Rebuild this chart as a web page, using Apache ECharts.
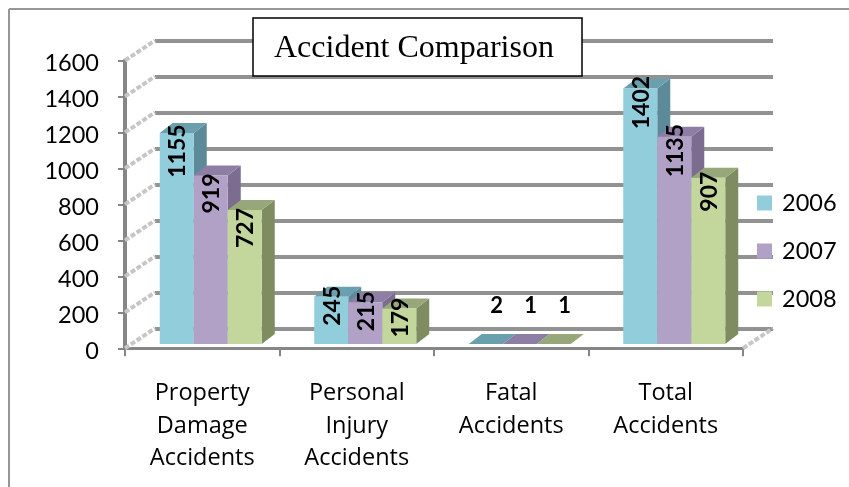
<!DOCTYPE html>
<html>
<head>
<meta charset="utf-8">
<style>html,body{margin:0;padding:0;background:#fff}#main{width:849px;height:487px}</style>
<script src="https://cdn.jsdelivr.net/npm/echarts@6/dist/echarts.min.js"></script>
</head>
<body>
<div id="main"></div>
<script>
var myChart = echarts.init(document.getElementById('main'));

// categories and series
var categories = ['Property\nDamage\nAccidents', 'Personal\nInjury\nAccidents', 'Fatal\nAccidents', 'Total\nAccidents'];
var years = ['2006', '2007', '2008'];
var values2006 = [1155, 245, 2, 1402];
var values2007 = [919, 215, 1, 1135];
var values2008 = [727, 179, 1, 907];
var yTicks = [0, 200, 400, 600, 800, 1000, 1200, 1400, 1600];

var seriesValues = [values2006, values2007, values2008];
var frontColors = ['#92cddc', '#b2a1c7', '#c3d69b'];
var topColors = ['#6a9fae', '#8e7ea6', '#97a77a'];
var sideColors = ['#5c8a98', '#7b6c90', '#7f8c62'];

// depth of the 3d box
var wallX = 30, wallY = -20;
var barW = 34, depthX = 13, depthY = -10;
// how far the label centre sits under the bar top, per category
var labelDrop = [18, 9, 0, 14];

function poly(points, color) {
  return { type: 'polygon', shape: { points: points }, style: { fill: color, stroke: null } };
}

function renderBar(s) {
  return function (params, api) {
    var i = api.value(0);
    var v = api.value(1);
    var base = api.coord([i, 0]);
    var pt = api.coord([i, v]);
    var x = base[0] + 8.5 + (s - 1) * barW - barW / 2;
    var bottom = base[1] - 4.2;
    var top = v < 10 ? bottom : pt[1] - 7.5;
    var kids = [];
    // side, top, front
    kids.push(poly([[x + barW, top], [x + barW + depthX, top + depthY], [x + barW + depthX, bottom + depthY], [x + barW, bottom]], sideColors[s]));
    kids.push(poly([[x, top], [x + depthX, top + depthY], [x + barW + depthX, top + depthY], [x + barW, top]], topColors[s]));
    kids.push({ type: 'rect', shape: { x: x, y: top, width: barW, height: bottom - top }, style: { fill: frontColors[s] } });
    // value label
    if (v < 10) {
      kids.push({
        type: 'text', x: x + barW / 2 + 11, y: 306,
        style: { text: String(v), fill: '#000', font: 'bold 22px Lato', align: 'center', verticalAlign: 'middle' }
      });
    } else {
      kids.push({
        type: 'text', x: x + barW / 2 + 1, y: top + labelDrop[i], rotation: Math.PI / 2,
        style: { text: String(v), fill: '#000', font: 'bold 23px Lato', align: 'center', verticalAlign: 'middle' }
      });
    }
    return { type: 'group', children: kids };
  };
}

// diagonal dashes on the side wall, left and right
function renderWall(params, api) {
  var left = api.coord([0, api.value(0)]);
  var sys = params.coordSys;
  var dash = { stroke: '#c6c6c6', lineWidth: 4, lineDash: [5, 2] };
  var kids = [{
    type: 'line',
    shape: { x1: sys.x, y1: left[1], x2: sys.x + wallX, y2: left[1] + wallY },
    style: dash
  }];
  if (params.dataIndex === 0) {
    kids.push({
      type: 'line',
      shape: { x1: sys.x + sys.width, y1: left[1], x2: sys.x + sys.width + wallX, y2: left[1] + wallY },
      style: dash
    });
  }
  return { type: 'group', children: kids };
}

var series = [{
  type: 'custom',
  xAxisIndex: 0,
  yAxisIndex: 0,
  renderItem: renderWall,
  encode: { x: 1, y: 0 },
  data: yTicks.map(function (t) { return [t, 0]; }),
  silent: true,
  z: 3
}];
years.forEach(function (name, s) {
  series.push({
    name: name,
    type: 'custom',
    xAxisIndex: 0,
    yAxisIndex: 0,
    renderItem: renderBar(s),
    encode: { x: 0, y: 1 },
    itemStyle: { color: frontColors[s] },
    data: seriesValues[s].map(function (v, i) { return [i, v]; }),
    z: 5 + s
  });
});

var option = {
  animation: false,
  backgroundColor: '#fff',
  title: {
    text: 'Accident Comparison',
    left: 253,
    top: 18,
    padding: [15, 28, 11, 21],
    backgroundColor: '#fff',
    borderColor: '#000',
    borderWidth: 1.5,
    textStyle: { fontFamily: 'Liberation Serif', fontWeight: 'normal', fontSize: 32, color: '#000' },
    z: 20
  },
  legend: {
    orient: 'vertical',
    left: 752,
    top: 186,
    data: years,
    icon: 'rect',
    itemWidth: 15,
    itemHeight: 15,
    itemGap: 24,
    textStyle: { fontFamily: 'Lato', fontSize: 23.5, color: '#000', padding: [4, 0, 0, 5] }
  },
  grid: [
    { left: 125, right: 106, top: 60.5, height: 287.8 },
    // back wall, carries only the grid lines
    { left: 155, right: 76, top: 40.5, height: 287.8 }
  ],
  xAxis: [{
    type: 'category',
    gridIndex: 0,
    data: categories,
    boundaryGap: true,
    axisLine: { lineStyle: { color: '#868686', width: 3 } },
    axisTick: { show: true, alignWithLabel: false, length: 8, lineStyle: { color: '#868686', width: 2 } },
    axisLabel: { color: '#000', fontFamily: 'Open Sans', fontSize: 23.5, lineHeight: 32.5, margin: 29, interval: 0 }
  }, {
    type: 'category',
    gridIndex: 1,
    data: categories,
    axisLine: { show: false },
    axisTick: { show: false },
    axisLabel: { show: false }
  }],
  yAxis: [{
    type: 'value',
    gridIndex: 0,
    min: 0,
    max: 1600,
    interval: 200,
    axisLine: { show: true, lineStyle: { color: '#868686', width: 4 } },
    axisTick: { show: true, length: 7, lineStyle: { color: '#868686', width: 2 } },
    axisLabel: { color: '#000', fontFamily: 'Lato', fontSize: 23.5, margin: 26, verticalAlign: 'top', lineHeight: 6, formatter: function (v) { return String(v); } },
    splitLine: { show: false }
  }, {
    type: 'value',
    gridIndex: 1,
    min: 0,
    max: 1600,
    interval: 200,
    axisLine: { show: false },
    axisTick: { show: false },
    axisLabel: { show: false },
    splitLine: { show: true, lineStyle: { color: '#929292', width: 4 } }
  }],
  graphic: [
    { type: 'line', shape: { x1: 9, y1: 9, x2: 849, y2: 9 }, style: { stroke: '#979797', lineWidth: 2 } },
    { type: 'line', shape: { x1: 9, y1: 9, x2: 9, y2: 487 }, style: { stroke: '#979797', lineWidth: 2 } }
  ],
  series: series
};

myChart.setOption(option);
</script>
</body>
</html>
